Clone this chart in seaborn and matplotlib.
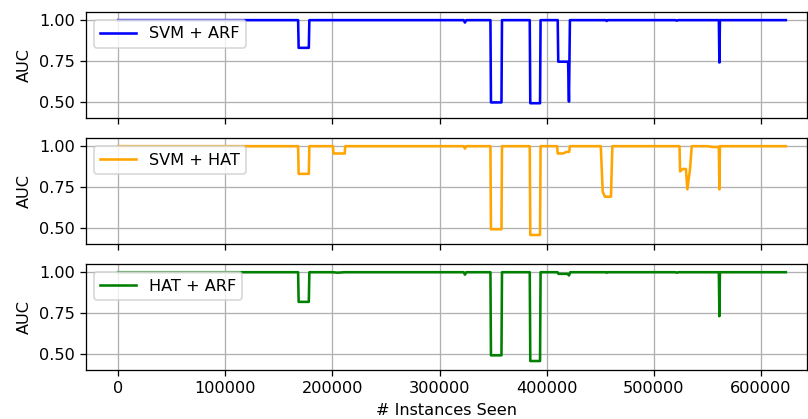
import matplotlib
matplotlib.use("Agg")
import matplotlib.pyplot as plt
import seaborn as sns
import pandas as pd

# Instances seen / AUC
svm_arf_x = [0, 168000, 168500, 178000, 178500, 322500, 323700, 325000, 347500, 348000,
             357800, 358300, 384200, 384700, 393800, 394300, 410300, 410800, 420000, 420800,
             421700, 455000, 456000, 457000, 520000, 521400, 523000, 560700, 561200, 561700, 623200]
svm_arf_y = [1.0, 1.0, 0.83, 0.83, 1.0, 1.0, 0.985, 1.0, 1.0, 0.495,
             0.495, 1.0, 1.0, 0.49, 0.49, 1.0, 1.0, 0.745, 0.745, 0.5,
             1.0, 1.0, 0.995, 1.0, 1.0, 0.997, 1.0, 1.0, 0.74, 1.0, 1.0]

svm_hat_x = [0, 168000, 168500, 178000, 178500, 200500, 201000, 211500, 212000, 322500,
             323700, 325000, 347500, 348000, 357800, 358300, 384200, 384700, 393800, 394300,
             409700, 410300, 415000, 418700, 421000, 421700, 450500, 452300, 454400, 460000,
             461300, 524000, 524500, 527000, 530000, 531300, 533800, 535400, 550000, 555000,
             560700, 561200, 561700, 623200]
svm_hat_y = [1.0, 1.0, 0.83, 0.83, 1.0, 1.0, 0.955, 0.955, 1.0, 1.0,
             0.985, 1.0, 1.0, 0.49, 0.49, 1.0, 1.0, 0.455, 0.455, 1.0,
             1.0, 0.955, 0.955, 0.965, 0.965, 1.0, 1.0, 0.72, 0.69, 0.69,
             1.0, 1.0, 0.845, 0.86, 0.86, 0.735, 0.86, 1.0, 1.0, 0.995,
             0.995, 0.735, 1.0, 1.0]

hat_arf_x = [0, 168000, 168500, 178000, 178500, 200000, 205000, 211000, 322500, 323700,
             325000, 347500, 348000, 357800, 358300, 384200, 384700, 393800, 394300, 410000,
             411000, 419500, 420800, 422000, 455000, 456000, 457000, 520000, 521400, 523000,
             560700, 561200, 561700, 623200]
hat_arf_y = [1.0, 1.0, 0.818, 0.818, 1.0, 1.0, 0.997, 1.0, 1.0, 0.985,
             1.0, 1.0, 0.49, 0.49, 1.0, 1.0, 0.455, 0.455, 1.0, 1.0,
             0.99, 0.99, 0.98, 1.0, 1.0, 0.997, 1.0, 1.0, 0.997, 1.0,
             1.0, 0.73, 1.0, 1.0]

labels = ["SVM + ARF", "SVM + HAT", "HAT + ARF"]
colors = ["blue", "orange", "green"]
series = [(svm_arf_x, svm_arf_y), (svm_hat_x, svm_hat_y), (hat_arf_x, hat_arf_y)]

DPI = 116
fig, axes = plt.subplots(3, 1, figsize=(808 / DPI, 419 / DPI), dpi=DPI, sharex=True)
fig.subplots_adjust(left=0.1064, right=0.9988, top=0.9714, bottom=0.117, hspace=0.19)

for ax, (xs, ys), lab, col in zip(axes, series, labels, colors):
    df = pd.DataFrame({"instances": xs, "auc": ys})
    sns.lineplot(data=df, x="instances", y="auc", ax=ax, color=col, label=lab,
                 estimator=None, sort=False, linewidth=1.6)
    ax.set_ylim(0.4, 1.05)
    ax.set_yticks([0.5, 0.75, 1.0])
    ax.set_yticklabels(["0.50", "0.75", "1.00"])
    ax.set_ylabel("AUC")
    ax.set_xlabel("")
    ax.grid(True, color="#b0b0b0", linewidth=0.8)
    ax.legend(loc="upper left", handlelength=2.2)

axes[-1].set_xlim(-30000, 643000)
axes[-1].set_xticks([0, 100000, 200000, 300000, 400000, 500000, 600000])
axes[-1].set_xticklabels(["0", "100000", "200000", "300000", "400000", "500000", "600000"])
axes[-1].set_xlabel("# Instances Seen")

fig.savefig("out.png", dpi=DPI)
